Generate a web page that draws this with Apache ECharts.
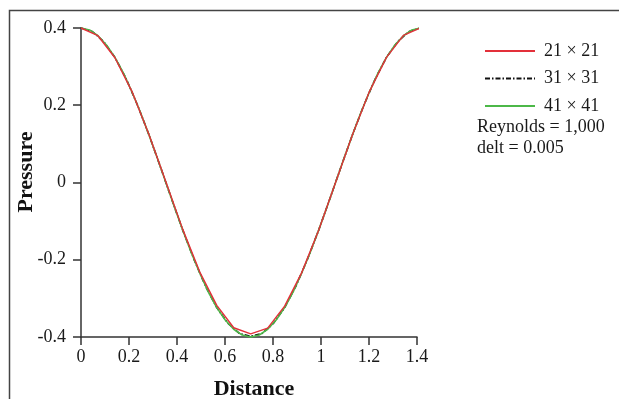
<!DOCTYPE html>
<html>
<head>
<meta charset="utf-8">
<script src="https://cdn.jsdelivr.net/npm/echarts@6/dist/echarts.min.js"></script>
<style>
html,body{margin:0;padding:0;background:#fff;}
#chart{width:619px;height:399px;}
</style>
</head>
<body>
<div id="chart"></div>
<script>
// Series names
const seriesNames = ['21 \u00d7 21', '31 \u00d7 31', '41 \u00d7 41'];
// Tick labels
const xTicks = ['0', '0.2', '0.4', '0.6', '0.8', '1', '1.2', '1.4'];
const yTicks = ['-0.4', '-0.2', '0', '0.2', '0.4'];
// 21 x 21 grid
const d21 = [0, 0.0707, 0.1414, 0.2121, 0.2828, 0.3536, 0.4243, 0.4950, 0.5657, 0.6364, 0.7071,
  0.7778, 0.8485, 0.9192, 0.9899, 1.0607, 1.1314, 1.2021, 1.2728, 1.3435, 1.4142];
const p21 = [0.400, 0.380, 0.323, 0.236, 0.125, 0.002, -0.122, -0.232, -0.318, -0.376, -0.392,
  -0.377, -0.320, -0.234, -0.124, 0.000, 0.124, 0.236, 0.324, 0.381, 0.400];
// 31 x 31 grid
const d31 = [0, 0.0471, 0.0943, 0.1414, 0.1886, 0.2357, 0.2828, 0.3300, 0.3771, 0.4243, 0.4714,
  0.5185, 0.5657, 0.6128, 0.6600, 0.7071, 0.7542, 0.8014, 0.8485, 0.8957, 0.9428, 0.9899,
  1.0371, 1.0842, 1.1314, 1.1785, 1.2257, 1.2728, 1.3199, 1.3671, 1.4142];
const p31 = [0.400, 0.391, 0.365, 0.324, 0.268, 0.200, 0.124, 0.042, -0.042, -0.124, -0.200,
  -0.268, -0.324, -0.365, -0.391, -0.398, -0.391, -0.365, -0.324, -0.268, -0.200, -0.124,
  -0.042, 0.042, 0.124, 0.200, 0.268, 0.324, 0.365, 0.391, 0.400];
// 41 x 41 grid
const d41 = [0, 0.0354, 0.0707, 0.1061, 0.1414, 0.1768, 0.2121, 0.2475, 0.2828, 0.3182, 0.3536,
  0.3889, 0.4243, 0.4596, 0.4950, 0.5303, 0.5657, 0.6010, 0.6364, 0.6718, 0.7071, 0.7425,
  0.7778, 0.8132, 0.8485, 0.8839, 0.9192, 0.9546, 0.9899, 1.0253, 1.0607, 1.0960, 1.1314,
  1.1667, 1.2021, 1.2374, 1.2728, 1.3081, 1.3435, 1.3789, 1.4142];
const p41 = [0.400, 0.395, 0.380, 0.356, 0.324, 0.283, 0.235, 0.182, 0.124, 0.063, 0.000,
  -0.063, -0.124, -0.182, -0.235, -0.283, -0.324, -0.356, -0.380, -0.395, -0.400, -0.395,
  -0.380, -0.356, -0.324, -0.283, -0.235, -0.182, -0.124, -0.063, 0.000, 0.063, 0.124,
  0.182, 0.235, 0.283, 0.324, 0.356, 0.380, 0.395, 0.400];
const notes = ['Reynolds = 1,000', 'delt = 0.005'];

const pairs = (xs, ys) => xs.map((x, i) => [x, ys[i]]);
const FONT = '"Liberation Serif", "Times New Roman", serif';

const chart = echarts.init(document.getElementById('chart'), null, {renderer: 'canvas'});
chart.setOption({
  animation: false,
  backgroundColor: '#fff',
  grid: {left: 81, right: 202, top: 28, bottom: 62, containLabel: false},
  xAxis: {
    type: 'value', min: 0, max: 1.4, interval: 0.2,
    axisLine: {show: true, onZero: false, lineStyle: {color: '#333', width: 1.5}},
    axisTick: {show: true, inside: false, length: 8, lineStyle: {color: '#333', width: 1.5}},
    splitLine: {show: false},
    axisLabel: {
      margin: 11, color: '#1a1a1a', fontFamily: FONT, fontSize: 18,
      formatter: v => { const i = Math.round(v / 0.2); return xTicks[i] !== undefined ? xTicks[i] : ''; }
    }
  },
  yAxis: {
    type: 'value', min: -0.4, max: 0.4, interval: 0.2,
    axisLine: {show: true, lineStyle: {color: '#333', width: 1.5}},
    axisTick: {show: true, inside: false, length: 8, lineStyle: {color: '#333', width: 1.5}},
    splitLine: {show: false},
    axisLabel: {
      margin: 15, color: '#1a1a1a', fontFamily: FONT, fontSize: 18,
      formatter: v => { const i = Math.round((v + 0.4) / 0.2); return yTicks[i] !== undefined ? yTicks[i] : ''; }
    }
  },
  legend: {
    orient: 'vertical', left: 479, top: 37,
    itemWidth: 50, itemHeight: 18, itemGap: 9.5,
    itemStyle: {opacity: 0},
    textStyle: {fontFamily: FONT, fontSize: 18, color: '#1a1a1a', padding: [0, 0, 0, 4], lineHeight: 18},
    data: seriesNames
  },
  series: [
    {
      name: seriesNames[1], type: 'line', data: pairs(d31, p31), showSymbol: false, symbol: 'none',
      clip: false, z: 2,
      lineStyle: {color: '#111', width: 1.6, type: [5, 2, 1.5, 2]},
      itemStyle: {color: '#111'}
    },
    {
      name: seriesNames[2], type: 'line', data: pairs(d41, p41), showSymbol: false, symbol: 'none',
      clip: false, z: 3,
      lineStyle: {color: '#4cb848', width: 1.6},
      itemStyle: {color: '#4cb848'}
    },
    {
      name: seriesNames[0], type: 'line', data: pairs(d21, p21), showSymbol: false, symbol: 'none',
      clip: false, z: 4,
      lineStyle: {color: '#e3303a', width: 1.4},
      itemStyle: {color: '#e3303a'}
    }
  ],
  graphic: [
    {type: 'rect', shape: {x: 9.5, y: 10.5, width: 700, height: 500}, style: {fill: 'none', stroke: '#444', lineWidth: 1.5}, silent: true, z: 0},
    {type: 'text', x: 477, y: 127, style: {text: notes[0], font: '18px ' + FONT, fill: '#1a1a1a', verticalAlign: 'middle'}},
    {type: 'text', x: 477, y: 148, style: {text: notes[1], font: '18px ' + FONT, fill: '#1a1a1a', verticalAlign: 'middle'}},
    {type: 'text', x: 254, y: 389, style: {text: 'Distance', font: 'bold 22px ' + FONT, fill: '#111', align: 'center', verticalAlign: 'middle'}},
    {type: 'text', x: 26, y: 172, rotation: Math.PI / 2, style: {text: 'Pressure', font: 'bold 22px ' + FONT, fill: '#111', align: 'center', verticalAlign: 'middle'}}
  ]
});
</script>
</body>
</html>
